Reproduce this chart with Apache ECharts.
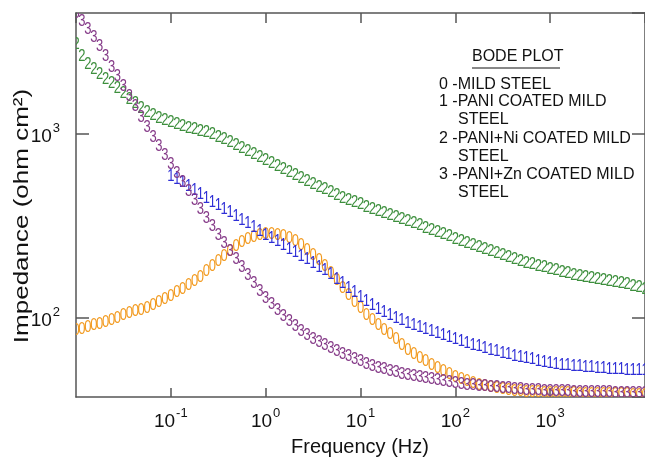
<!DOCTYPE html>
<html><head><meta charset="utf-8">
<script src="https://cdn.jsdelivr.net/npm/echarts@6/dist/echarts.min.js"></script>
<style>html,body{margin:0;padding:0;background:#fff}#c{width:645px;height:458px}</style>
</head><body><div id="c"></div>
<script>
// Frequencies (Hz), 16 points per decade
const frequencies = [
  0.01,0.01155,0.01334,0.0154,0.01778,0.02054,0.02371,0.02738,0.03162,0.03652,0.04217,0.0487,0.05623,0.06494,0.07499,0.0866,
  0.1,0.1155,0.1334,0.154,0.1778,0.2054,0.2371,0.2738,0.3162,0.3652,0.4217,0.487,0.5623,0.6494,0.7499,0.866,
  1,1.155,1.334,1.54,1.778,2.054,2.371,2.738,3.162,3.652,4.217,4.87,5.623,6.494,7.499,8.66,
  10,11.55,13.34,15.4,17.78,20.54,23.71,27.38,31.62,36.52,42.17,48.7,56.23,64.94,74.99,86.6,
  100,115.5,133.4,154,177.8,205.4,237.1,273.8,316.2,365.2,421.7,487,562.3,649.4,749.9,866,
  1000,1155,1334,1540,1778,2054,2371,2738,3162,3652,4217,4870,5623,6494,7499,8660,
  10000
];
// 0 - MILD STEEL
const mildSteel = [
  85.0,86.6,88.8,90.5,92.2,94.0,96.3,98.8,102.5,105.1,
  107.8,109.9,112.6,116.2,120.6,125.3,130.0,136.8,142.9,149.3,
  157.9,166.0,177.8,189.3,201.6,214.5,228.4,243.2,255.7,265.5,
  272.2,279.1,282.6,282.6,280.8,275.6,268.8,258.9,246.2,232.8,
  217.3,204.1,189.3,173.5,158.9,144.7,131.7,121.4,111.9,103.2,
  96.3,90.5,85.5,80.8,75.9,70.9,66.6,63.3,60.3,57.7,
  55.2,52.8,50.9,49.0,47.5,46.3,45.2,44.1,43.0,42.2,
  41.7,41.1,40.6,40.1,39.9,39.6,39.4,39.1,39.1,38.9,
  38.9,38.6,38.6,38.6,38.6,38.4,38.4,38.4,38.4,38.15,
  38.15,38.15,38.15,38.15,37.9,37.9,37.9
];
// 1 - PANI COATED MILD STEEL (measured from 0.1 Hz, i.e. frequencies[16] on)
const paniStart = 16;
const pani = [
  583.9,562.3,541.6,515.2,490.1,466.2,443.6,424.4,406.2,388.8,
  372.1,354.0,338.8,324.3,310.4,295.2,280.8,268.8,258.9,246.2,
  235.6,225.5,215.9,206.6,196.6,188.2,180.1,171.3,161.9,153.0,
  144.7,136.8,128.5,122.2,116.2,111.2,106.5,102.5,99.4,96.3,
  93.4,90.5,88.2,86.1,83.9,81.9,79.8,77.9,75.9,74.1,
  72.2,70.9,69.6,67.9,66.6,65.4,64.1,63.0,61.8,60.6,
  59.9,59.1,58.0,57.3,56.6,55.9,55.2,54.9,54.5,54.2,
  53.9,53.5,53.2,52.8,52.5,52.2,52.2,51.9,51.9,51.5,51.5
];
// 2 - PANI+Ni COATED MILD STEEL
const paniNi = [
  3046,2621,2371,2228,2106,1978,1870,1756,1650,1540,
  1456,1373,1309,1253,1214,1177,1148,1119,1092,1071,
  1051,1032,1013,988,957,928,894,861,829,798,
  769,740,713,687,662,637,614,591,573,552,
  532,512,496,478,461,444,432,422,411,399,
  386,377,368,358,350,341,332,324,316,307,
  299,290,283,276,267,260,253,246,240,234,
  228,223,217,212,207,202,198,194,191,187,
  183,180,177,173,170,168,166,164,162,160,
  158,156,154,151,148,146,142
];
// 3 - PANI+Zn COATED MILD STEEL
const paniZn = [
  4489,4061,3675,3325,2971,2621,2284,2041,1801,1589,
  1402,1222,1078,951,850,759,679,606,542,484,
  432,386,345,312,281,253,228,207,187,169,
  153,138.5,126.9,117.7,109.2,101.3,95.1,89.3,84.5,79.8,
  75.9,73.1,70.4,67.9,65.4,63.3,61.4,59.5,57.7,55.9,
  54.5,53.2,52.2,51.2,50.2,49.3,48.7,48.1,47.5,46.9,
  46.3,45.8,45.2,44.6,44.1,43.5,43.0,42.7,42.5,42.2,
  41.9,41.7,41.4,41.1,40.9,40.6,40.4,40.1,40.1,39.9,
  39.9,39.6,39.6,39.6,39.4,39.4,39.4,39.1,39.1,39.1,
  39.1,38.9,38.9,38.9,38.6,38.6,38.6
];
const xTicks = [0.1, 1, 10, 100, 1000];
const yTicks = [100, 1000];
const legendTitle = 'BODE PLOT';
const legendLines = [
  '0 -MILD STEEL',
  '1 -PANI COATED MILD', '   STEEL',
  '2 -PANI+Ni COATED MILD', '   STEEL',
  '3 -PANI+Zn COATED MILD', '   STEEL'
];

const FONT = '"Liberation Sans", Arial, sans-serif';
const chart = echarts.init(document.getElementById('c'), null, {renderer: 'canvas'});

function isTick(list, v) { return list.some(t => Math.abs(t - v) / t < 1e-6); }
function powLabel(list) {
  return function (v) {
    if (!isTick(list, v)) return '';
    return '{b|10}{s|' + Math.round(Math.log10(v)) + '}';
  };
}
const labelRich = {
  b: {fontSize: 19, fontFamily: FONT, color: '#111', verticalAlign: 'bottom', lineHeight: 24},
  s: {fontSize: 13, fontFamily: FONT, color: '#111', verticalAlign: 'top', lineHeight: 24, padding: [0, 0, 0, 1]}
};

function digitSeries(name, digit, color, xs, ys) {
  return {
    type: 'custom', name: name, clip: true, xAxisIndex: 0, yAxisIndex: 0,
    data: ys.map((z, i) => [xs[i], z]),
    renderItem: function (params, api) {
      const p = api.coord([api.value(0), api.value(1)]);
      return {
        type: 'text', x: p[0], y: p[1], scaleY: 1.2,
        style: {text: digit, fill: color, font: '13px ' + FONT, align: 'center', verticalAlign: 'middle'}
      };
    }
  };
}

const axisLineStyle = {color: '#555', width: 1.5};
const graphics = [
  {type: 'text', x: 360, y: 447, style: {text: 'Frequency (Hz)', font: '20px ' + FONT, fill: '#111', align: 'center', verticalAlign: 'middle'}},
  {type: 'text', x: 22, y: 216, rotation: Math.PI / 2, scaleX: 1.3,
   style: {text: 'Impedance (ohm cm²)', font: '20px ' + FONT, fill: '#111', align: 'center', verticalAlign: 'middle'}},
  {type: 'text', x: 472, y: 57, style: {text: legendTitle, font: '16px ' + FONT, fill: '#111', align: 'left', verticalAlign: 'middle'}},
  {type: 'line', shape: {x1: 472, y1: 68, x2: 560, y2: 68}, style: {stroke: '#111', lineWidth: 1}}
];
const lineYs = [85, 102, 120, 138.5, 156.5, 175, 193];
legendLines.forEach((t, i) => {
  const indent = t.startsWith('   ');
  graphics.push({type: 'text', x: indent ? 458 : 439, y: lineYs[i],
    style: {text: t.trim(), font: '16px ' + FONT, fill: '#111', align: 'left', verticalAlign: 'middle'}});
});

chart.setOption({
  animation: false,
  backgroundColor: '#fff',
  grid: {left: 76, top: 13, right: 0, bottom: 61, containLabel: false},
  xAxis: [
    {type: 'log', logBase: 10, min: 0.01, max: 10000, position: 'bottom',
     axisLine: {show: true, lineStyle: axisLineStyle},
     axisTick: {show: true, inside: true, length: 9, lineStyle: axisLineStyle},
     minorTick: {show: false}, splitLine: {show: false},
     axisLabel: {show: true, formatter: powLabel(xTicks), rich: labelRich, margin: 10, showMinLabel: false, showMaxLabel: false}},
    {type: 'log', logBase: 10, min: 0.01, max: 10000, position: 'top',
     axisLine: {show: true, lineStyle: axisLineStyle},
     axisTick: {show: true, inside: true, length: 10, lineStyle: axisLineStyle},
     axisLabel: {show: false}, splitLine: {show: false}}
  ],
  yAxis: [
    {type: 'log', logBase: 10, min: 37.2, max: 4546, position: 'left',
     axisLine: {show: true, lineStyle: axisLineStyle},
     axisTick: {show: true, inside: true, length: 13, lineStyle: axisLineStyle},
     minorTick: {show: false}, splitLine: {show: false},
     axisLabel: {show: true, formatter: powLabel(yTicks), rich: labelRich, margin: 16, showMinLabel: false, showMaxLabel: false}},
    {type: 'log', logBase: 10, min: 37.2, max: 4546, position: 'right',
     axisLine: {show: true, lineStyle: axisLineStyle},
     axisTick: {show: true, inside: true, length: 13, lineStyle: axisLineStyle},
     axisLabel: {show: false}, splitLine: {show: false}}
  ],
  series: [
    digitSeries('MILD STEEL', '0', '#f29a1f', frequencies, mildSteel),
    digitSeries('PANI COATED MILD STEEL', '1', '#2f2fd6', frequencies.slice(paniStart), pani),
    digitSeries('PANI+Ni COATED MILD STEEL', '2', '#3d8f3d', frequencies, paniNi),
    digitSeries('PANI+Zn COATED MILD STEEL', '3', '#853a88', frequencies, paniZn)
  ],
  graphic: graphics
});
</script></body></html>
